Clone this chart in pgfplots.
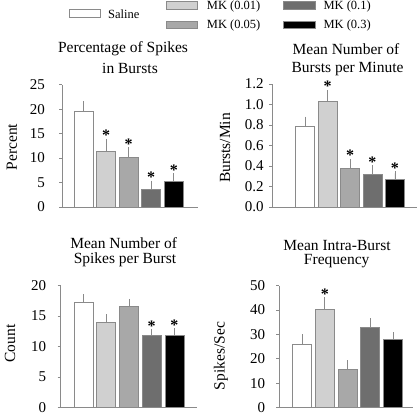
\documentclass[border=0pt]{standalone}
\usepackage{fontspec}
\setmainfont{Liberation Serif}
\usepackage{pgfplots}
\pgfplotsset{compat=1.18}
\definecolor{cA}{HTML}{FFFFFF}
\definecolor{cB}{HTML}{D0D0D0}
\definecolor{cC}{HTML}{A8A8A8}
\definecolor{cD}{HTML}{6E6E6E}
\definecolor{cE}{HTML}{000000}
\definecolor{edge}{HTML}{8A8A8A}
\newcommand{\titfont}{\fontsize{15.5}{18}\selectfont}
\newcommand{\legfont}{\fontsize{12.5}{14}\selectfont}
\pgfplotsset{
 panel/.style={scale only axis, axis x line=bottom, axis y line=left,
   axis line style={edge, -, line width=0.8pt}, xtick=\empty, ymin=0,
   tick align=outside, major tick length=3pt, tick style={edge, line width=0.6pt},
   yticklabel style={anchor=east, inner sep=0pt, font=\fontsize{15}{15}\selectfont},
   /pgf/number format/assume math mode=true, clip=false},
 mybar/.style={ybar, bar width=19pt, bar shift=0pt, draw=edge, line width=0.8pt, fill=#1,
   error bars/.cd, y dir=plus, y explicit, error bar style={edge, line width=0.8pt},
   error mark options={edge, mark size=2pt, line width=0.8pt}},
 star/.style={draw=none, mark=none, nodes near coords={*},
   nodes near coords style={anchor=base, inner sep=0pt, black, font=\fontsize{16}{16}\selectfont\bfseries}},
}
\begin{document}
\begin{tikzpicture}
\path[use as bounding box] (0,0) rectangle (419pt,416pt);
% Panel 1
\begin{axis}[panel, at={(62pt,209pt)}, anchor=south west, width=136pt, height=122.3pt,
  xmin=-0.947, xmax=5.07, ymax=25, ytick={0,5,10,15,20,25}, yticklabel style={xshift=-14pt}]
\addplot[mybar=cA] coordinates {(0,19.5) +- (0,1.7)};
\addplot[mybar=cB] coordinates {(1,11.4) +- (0,2.1)};
\addplot[mybar=cC] coordinates {(2,10.2) +- (0,1.6)};
\addplot[mybar=cD] coordinates {(3,3.6) +- (0,1.4)};
\addplot[mybar=cE] coordinates {(4,5.2) +- (0,1.3)};
\addplot[star] coordinates {(1,13.5) (2,11.8) (3,5.0) (4,6.5)};
\end{axis}
% Panel 2
\begin{axis}[panel, at={(272pt,209pt)}, anchor=south west, width=145pt, height=123pt,
  xmin=-1.47, xmax=4.98, ymax=1.2, ytick={0,0.2,0.4,0.6,0.8,1.0,1.2},
  yticklabel style={xshift=-5.3pt, /pgf/number format/.cd, fixed, fixed zerofill, precision=1}]
\addplot[mybar=cA] coordinates {(0,0.787) +- (0,0.075)};
\addplot[mybar=cB] coordinates {(1,1.028) +- (0,0.094)};
\addplot[mybar=cC] coordinates {(2,0.377) +- (0,0.072)};
\addplot[mybar=cD] coordinates {(3,0.322) +- (0,0.065)};
\addplot[mybar=cE] coordinates {(4,0.273) +- (0,0.055)};
\addplot[star] coordinates {(1,1.122) (2,0.449) (3,0.387) (4,0.328)};
\end{axis}
% Panel 3
\begin{axis}[panel, at={(60.7pt,8.5pt)}, anchor=south west, width=136pt, height=122pt,
  xmin=-1.01, xmax=4.98, ymax=20, ytick={0,5,10,15,20}, yticklabel style={xshift=-11.4pt}]
\addplot[mybar=cA] coordinates {(0,17.3) +- (0,0.95)};
\addplot[mybar=cB] coordinates {(1,13.9) +- (0,1.1)};
\addplot[mybar=cC] coordinates {(2,16.5) +- (0,1.0)};
\addplot[mybar=cD] coordinates {(3,11.8) +- (0,0.7)};
\addplot[mybar=cE] coordinates {(4,11.9) +- (0,0.8)};
\addplot[star] coordinates {(3,12.5) (4,12.7)};
\end{axis}
% Panel 4
\begin{axis}[panel, at={(279.3pt,8.5pt)}, anchor=south west, width=133.7pt, height=122pt,
  xmin=-1.0, xmax=4.88, ymax=50, ytick={0,10,20,30,40,50}, yticklabel style={xshift=-11pt}]
\addplot[mybar=cA] coordinates {(0,25.9) +- (0,3.3)};
\addplot[mybar=cB] coordinates {(1,40.1) +- (0,4.2)};
\addplot[mybar=cC] coordinates {(2,15.6) +- (0,3.0)};
\addplot[mybar=cD] coordinates {(3,32.9) +- (0,2.8)};
\addplot[mybar=cE] coordinates {(4,27.8) +- (0,2.3)};
\addplot[star] coordinates {(1,44.3)};
\end{axis}
% Titles
\node[font=\titfont, inner sep=0pt] at (123pt,367pt) {Percentage of Spikes};
\node[font=\titfont, inner sep=0pt] at (130pt,348pt) {in Bursts};
\node[font=\titfont, inner sep=0pt] at (346pt,367pt) {Mean Number of};
\node[font=\titfont, inner sep=0pt] at (347.5pt,347pt) {Bursts per Minute};
\node[font=\titfont, inner sep=0pt] at (123.7pt,172.7pt) {Mean Number of};
\node[font=\titfont, inner sep=0pt] at (125pt,156pt) {Spikes per Burst};
\node[font=\titfont, inner sep=0pt] at (337pt,171pt) {Mean Intra-Burst};
\node[font=\titfont, inner sep=0pt] at (336.7pt,155pt) {Frequency};
% Y labels
\node[font=\titfont, inner sep=0pt, rotate=90] at (12pt,269pt) {Percent};
\node[font=\titfont, inner sep=0pt, rotate=90] at (225pt,268pt) {Bursts/Min};
\node[font=\titfont, inner sep=0pt, rotate=90] at (10pt,72.5pt) {Count};
\node[font=\titfont, inner sep=0pt, rotate=90] at (221pt,60pt) {Spikes/Sec};
% Legend
\draw[edge, fill=cA, line width=0.8pt] (69pt,398.7pt) rectangle (100pt,406.7pt);
\node[font=\legfont, inner sep=0pt, anchor=west] at (108pt,401.5pt) {Saline};
\draw[edge, fill=cB, line width=0.8pt] (166pt,407pt) rectangle (197pt,414.3pt);
\node[font=\legfont, inner sep=0pt, anchor=west] at (206.7pt,409.5pt) {MK (0.01)};
\draw[edge, fill=cC, line width=0.8pt] (166pt,387.5pt) rectangle (197pt,395pt);
\node[font=\legfont, inner sep=0pt, anchor=west] at (206.7pt,391pt) {MK (0.05)};
\draw[edge, fill=cD, line width=0.8pt] (283.3pt,407pt) rectangle (315pt,414.3pt);
\node[font=\legfont, inner sep=0pt, anchor=west] at (323.3pt,409.5pt) {MK (0.1)};
\draw[edge, fill=cE, line width=0.8pt] (283.3pt,387.5pt) rectangle (315pt,395pt);
\node[font=\legfont, inner sep=0pt, anchor=west] at (323.3pt,391pt) {MK (0.3)};
\end{tikzpicture}
\end{document}
